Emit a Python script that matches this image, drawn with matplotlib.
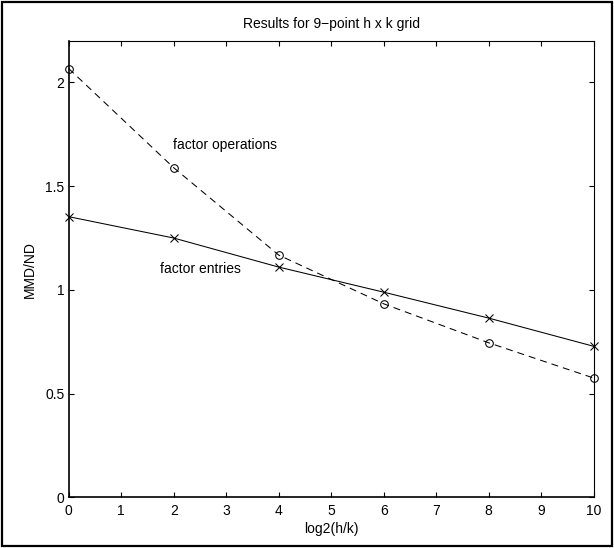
"""MMD/ND versus log2(h/k) for the 9-point h x k grid."""

import matplotlib
matplotlib.use('Agg')
import matplotlib.pyplot as plt
from matplotlib.patches import Rectangle

plt.rcParams['font.family'] = ['Liberation Sans', 'DejaVu Sans']

log_ratio = [0, 2, 4, 6, 8, 10]
factor_operations = [2.067, 1.589, 1.168, 0.933, 0.745, 0.575]
factor_entries = [1.353, 1.250, 1.110, 0.989, 0.864, 0.728]

fig = plt.figure(figsize=(6.14, 5.48), dpi=100)
ax = fig.add_axes([0.1119, 0.0925, 0.855, 0.8327])

ax.plot(log_ratio, factor_operations, color='black', linewidth=0.75,
        dashes=(6.7, 4.8), marker='o', markersize=5.5,
        markerfacecolor='none', markeredgewidth=0.75, clip_on=False)
ax.plot(log_ratio, factor_entries, color='black', linewidth=0.75,
        marker='x', markersize=6, markeredgewidth=0.75, clip_on=False)

ax.text(1.99, 1.697, 'factor operations', fontsize=10, va='center')
ax.text(1.74, 1.099, 'factor entries', fontsize=10, va='center')

ax.set_xlim(0, 10)
ax.set_ylim(0, 2.2)
ax.set_xticks(range(0, 11))
ax.set_yticks([0, 0.5, 1, 1.5, 2])
ax.set_yticklabels(['0', '0.5', '1', '1.5', '2'])
ax.tick_params(direction='in', top=True, right=True, length=3.6,
               width=0.8, labelsize=10)
ax.tick_params(axis='x', pad=5)
ax.tick_params(axis='y', pad=3)
for side in ['left', 'bottom']:
    ax.spines[side].set_linewidth(1.2)
for side in ['top', 'right']:
    ax.spines[side].set_linewidth(0.8)

ax.set_title('Results for 9\u2212point h x k grid', fontsize=10, pad=9)
ax.set_xlabel('log2(h/k)', fontsize=10, labelpad=3)
ax.set_ylabel('MMD/ND', fontsize=10, labelpad=6)

# outer frame round the whole figure
fig.patches.append(Rectangle((0.004, 0.004), 0.992, 0.992,
                             transform=fig.transFigure, fill=False,
                             edgecolor='black', linewidth=1.6))

fig.savefig('out.png', dpi=100)
plt.close(fig)
